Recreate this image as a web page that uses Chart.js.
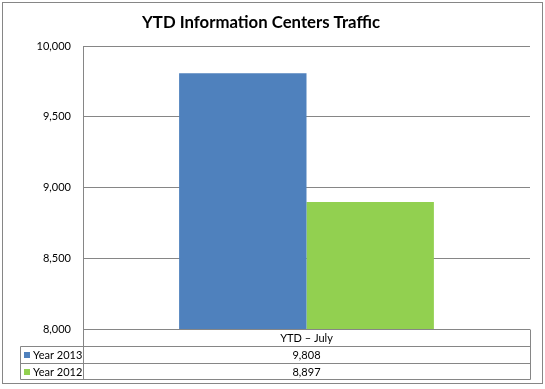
<!DOCTYPE html>
<html>
<head>
<meta charset="utf-8">
<script src="https://cdn.jsdelivr.net/npm/chart.js@4/dist/chart.umd.min.js"></script>
<style>
  html, body { margin: 0; padding: 0; background: #fff; }
  #wrap { width: 545px; height: 389px; }
</style>
</head>
<body>
<div id="wrap"><canvas id="c" width="545" height="389"></canvas></div>
<script>
const titleText = "YTD Information Centers Traffic";
const categories = ["YTD \u2013 July"];
const seriesNames = ["Year 2013", "Year 2012"];
const year2013 = [9808];
const year2012 = [8897];
const seriesColors = ["#4F81BD", "#92D050"];
const yTicks = [8000, 8500, 9000, 9500, 10000];

const FONT = "Lato, 'Open Sans', sans-serif";
const GRID = "#868686";
const fmt = v => Number(v).toLocaleString("en-US");

const decorPlugin = {
  id: "decor",
  afterDraw(chart) {
    const ctx = chart.ctx;
    const a = chart.chartArea;
    ctx.save();
    // outer border
    ctx.strokeStyle = GRID;
    ctx.lineWidth = 1;
    ctx.strokeRect(2.5, 2.5, 540, 381);

    // title
    ctx.fillStyle = "#000";
    let size = 18;
    ctx.font = "bold " + size + "px " + FONT;
    const w = ctx.measureText(titleText).width;
    size = size * 238 / w;
    ctx.font = "bold " + size.toFixed(2) + "px " + FONT;
    ctx.textAlign = "center";
    ctx.textBaseline = "alphabetic";
    ctx.fillText(titleText, 261, 28);

    // data table
    const left = Math.round(a.left) + 0.5;
    const right = Math.round(a.right) + 0.5;
    const bottom = Math.round(a.bottom) + 0.5;
    const rowH = 16.5;
    const tableLeft = 20.5;
    const rows = [bottom + 17, bottom + 17 + rowH, bottom + 17 + 2 * rowH];
    const yr = rows.map(r => Math.round(r - 0.5) + 0.5);
    ctx.beginPath();
    ctx.moveTo(left, a.top); ctx.lineTo(left, yr[2]);
    ctx.moveTo(right, bottom); ctx.lineTo(right, yr[2]);
    ctx.moveTo(tableLeft, yr[0]); ctx.lineTo(tableLeft, yr[2]);
    for (const y of yr) { ctx.moveTo(tableLeft, y); ctx.lineTo(right, y); }
    ctx.stroke();

    ctx.font = "11px " + FONT;
    ctx.fillStyle = "#000";
    ctx.textBaseline = "middle";
    ctx.textAlign = "center";
    const xs = chart.scales.x;
    categories.forEach((cat, i) => {
      const cx = xs.getPixelForValue(i);
      ctx.fillText(cat, cx, (bottom + yr[0]) / 2 + 0.5);
      const vals = [year2013[i], year2012[i]];
      vals.forEach((v, j) => {
        const top = yr[j], bot = yr[j + 1];
        ctx.fillText(fmt(v), cx, (top + bot) / 2 + 0.5);
      });
    });
    ctx.textAlign = "left";
    seriesNames.forEach((n, j) => {
      const top = yr[j], bot = yr[j + 1];
      const mid = (top + bot) / 2;
      ctx.fillStyle = seriesColors[j];
      ctx.fillRect(24, Math.round(mid - 3), 6, 6);
      ctx.fillStyle = "#000";
      ctx.fillText(n, 33, mid + 0.5);
    });
    ctx.restore();
  }
};

new Chart(document.getElementById("c"), {
  type: "bar",
  data: {
    labels: categories,
    datasets: [
      { label: seriesNames[0], data: year2013, backgroundColor: seriesColors[0], borderWidth: 0 },
      { label: seriesNames[1], data: year2012, backgroundColor: seriesColors[1], borderWidth: 0 }
    ]
  },
  options: {
    responsive: false,
    animation: false,
    devicePixelRatio: 1,
    categoryPercentage: 0.57,
    barPercentage: 1,
    layout: { padding: { top: 46, bottom: 60, left: 0, right: 15 } },
    plugins: { legend: { display: false }, title: { display: false }, tooltip: { enabled: false } },
    scales: {
      x: { display: false },
      y: {
        min: 8000,
        max: 10000,
        afterFit(scale) { scale.width = 83; },
        afterBuildTicks(scale) { scale.ticks = yTicks.map(v => ({ value: v })); },
        ticks: {
          padding: 12,
          color: "#000",
          font: { family: FONT, size: 11 },
          callback: v => fmt(v)
        },
        grid: { color: GRID, drawTicks: false, lineWidth: 1 },
        border: { display: true, color: GRID }
      }
    }
  },
  plugins: [decorPlugin]
});
</script>
</body>
</html>
